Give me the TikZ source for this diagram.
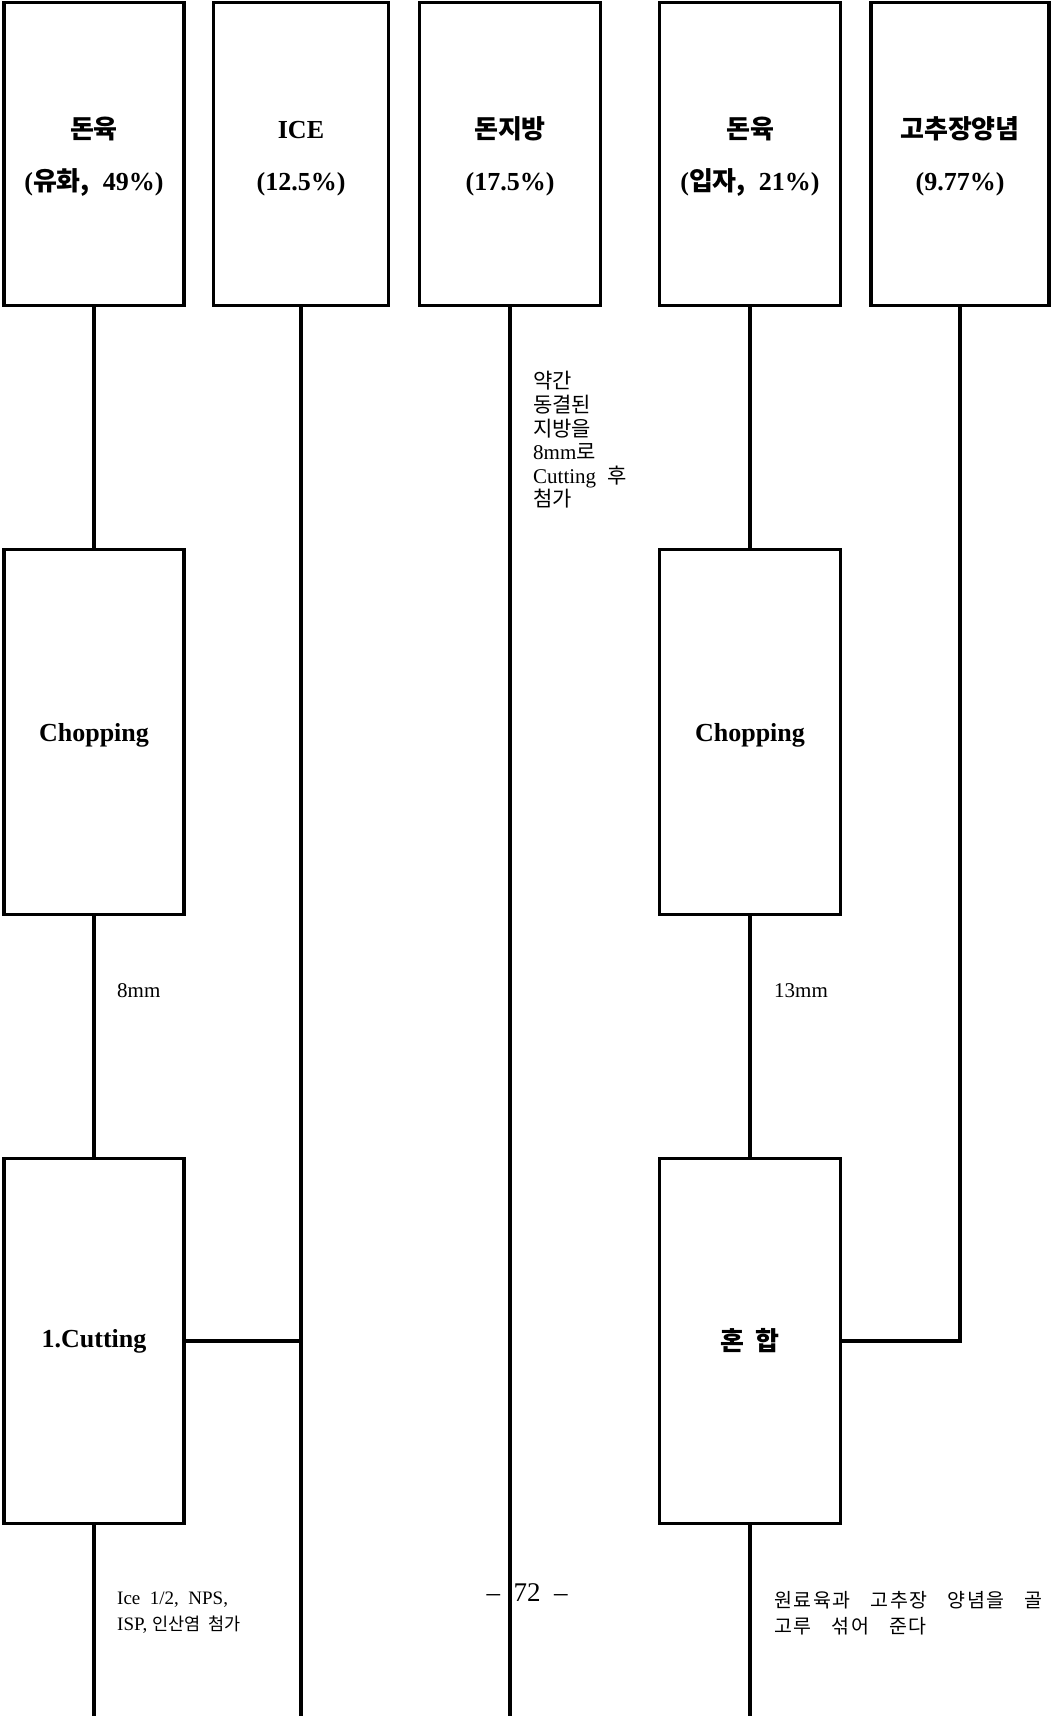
\documentclass[tikz,border=0pt]{standalone}
\usepackage{fontspec}
\setmainfont{Liberation Serif}
\newfontfamily\kr{Noto Sans CJK KR}
\usepackage{tikz}
\usetikzlibrary{positioning}
\newcommand{\ko}[1]{{\kr #1}}
\newcommand{\gap}{\hspace{0.55em}}
\newcommand{\lowr}[1]{\rule{0pt}{#1}}

\begin{document}
\begin{tikzpicture}[x=1pt,y=-1pt,
    box/.style={draw, line width=3.5pt, inner sep=0pt, align=center,
      font=\bfseries\fontsize{26}{52}\selectfont},
    srcbox/.style={box, minimum height=303pt},
    stepbox/.style={box, minimum width=181pt, minimum height=365pt},
    link/.style={line width=3.5pt},
    note/.style={anchor=west, align=left, inner sep=0pt,
      font=\fontsize{21}{23.6}\selectfont}]
  \useasboundingbox (0,0) rectangle (1051,1716);
  \coordinate (bottom) at (0,1716);
  % raw materials
  \node[srcbox, minimum width=180pt] (pork) at (94,154)
    {\lowr{27pt}\ko{돈육}\\(\ko{유화,}\ \ 49\%)};
  \node[srcbox, minimum width=175pt] (ice) at (301,154)
    {\lowr{27pt}ICE\\(12.5\%)};
  \node[srcbox, minimum width=181pt] (fat) at (510,154)
    {\lowr{27pt}\ko{돈지방}\\(17.5\%)};
  \node[srcbox, minimum width=181pt] (porkb) at (750,154)
    {\lowr{27pt}\ko{돈육}\\(\ko{입자,}\ \ 21\%)};
  \node[srcbox, minimum width=178pt] (sauce) at (960,154)
    {\lowr{27pt}\ko{고추장양념}\\(9.77\%)};
  % process steps
  \node[stepbox, minimum width=180pt] (chopa) at (94,732) {\lowr{24pt}Chopping};
  \node[stepbox] (chopb) at (750,732) {\lowr{24pt}Chopping};
  \node[stepbox, minimum width=180pt] (cut) at (94,1341) {1.Cutting};
  \node[stepbox] (mix) at (750,1341) {\ko{혼\ \ 합}};
  % notes
  \node[note] (grind8) at (117,991) {8mm};
  \node[note] (grind13) at (774,991) {13mm};
  \node[note] (fatnote) at (533,440)
    {\ko{약간}\\\ko{동결된}\\\ko{지방을}\\8mm\ko{로}\\Cutting\gap\ko{후}\\\ko{첨가}};
  \node[note, font=\fontsize{19}{26}\selectfont] (cutnote) at (117,1613)
    {Ice\ \ 1/2,\ \ NPS,\\ISP,\ \ko{\fontsize{17.5}{26}\selectfont 인산염\hspace{8pt}첨가}};
  \node[note, font=\kr\fontsize{19.5}{26}\selectfont\addfontfeature{LetterSpace=8}]
    (mixnote) at (774,1613)
    {원료육과\hspace{20pt}고추장\hspace{20pt}양념을\hspace{20pt}골\\
     고루\hspace{20pt}섞어\hspace{20pt}준다};
  \node[font=\fontsize{27}{30}\selectfont, inner sep=0pt] (pageno) at (527,1593)
    {--\ \ 72\ \ --};
  % connectors
  \draw[link] (pork) -- (chopa);
  \draw[link] (chopa) -- (cut);
  \draw[link] (cut.south) -- (cut.south |- bottom);
  \draw[link] (ice.south) -- (ice.south |- bottom);
  \draw[link] (cut.east) -- (cut.east -| ice.south);
  \draw[link] (fat.south) -- (fat.south |- bottom);
  \draw[link] (porkb) -- (chopb);
  \draw[link] (chopb) -- (mix);
  \draw[link] (mix.south) -- (mix.south |- bottom);
  \draw[link] (sauce.south) |- (mix.east);
\end{tikzpicture}
\end{document}
